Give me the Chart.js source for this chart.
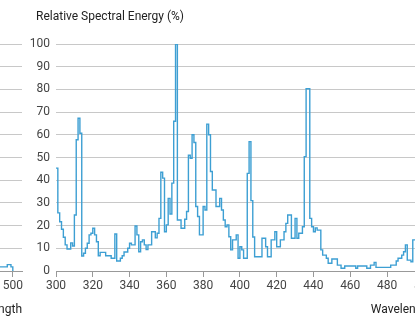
<!DOCTYPE html>
<html>
<head>
<meta charset="utf-8">
<script src="https://cdn.jsdelivr.net/npm/chart.js@4.4.1/dist/chart.umd.min.js"></script>
<style>
  html, body { margin: 0; padding: 0; background: #fff; overflow: hidden; }
  #frame { position: relative; width: 415px; height: 316px; overflow: hidden; }
  canvas { position: absolute; top: 0; }
  #prevChart { left: -411px; }
  #mainChart { left: 0; }
</style>
</head>
<body>
<div id="frame">
  <canvas id="prevChart" width="440" height="316"></canvas>
  <canvas id="mainChart" width="440" height="316"></canvas>
</div>
<script>
// --- Data (1 nm steps) ---
const mainStartNm = 300;
const relativeEnergy = [
  45.3, 25.6, 21.7, 18.4, 14.9, 11.5, 9.7, 9.7, 12.4, 11,      // 300
  24.7, 57.8, 67.3, 60.7, 6.6, 7.8, 10, 12.2, 15.9, 16.6,      // 310
  18.8, 15.9, 12.9, 6.7, 8.2, 8.2, 8.2, 6.7, 6.7, 6.7,         // 320
  5.6, 5.6, 16.3, 4.4, 4.4, 5.6, 6.7, 8.4, 8.4, 10,            // 330
  12.2, 11.5, 11.5, 19.8, 15.9, 8.5, 12.9, 13.7, 11.5, 9.5,    // 340
  11.5, 11.5, 17.3, 17.3, 14.6, 16.6, 23.2, 43.5, 40.9, 17.3,  // 350
  20.3, 32, 25.1, 38.7, 66, 100, 22.5, 22.5, 18.8, 18.8,       // 360
  22.8, 26.2, 51, 49.7, 60, 56.6, 28.4, 24, 15.9, 15.9,        // 370
  28.4, 26.9, 64.7, 60, 43.8, 35.7, 35.7, 28.4, 28.4, 32,      // 380
  26.9, 22.5, 19.5, 20.3, 15.1, 9.3, 13.7, 13.7, 15.9, 5.6,    // 390
  10.7, 9.3, 5.6, 5.6, 43, 57, 31, 15, 6.3, 6.3,               // 400
  6.3, 6.3, 14.4, 14.4, 10.7, 6.3, 6.3, 13.7, 13.7, 17.3,      // 410
  10.7, 10.7, 13.7, 13.7, 17.3, 21, 24.7, 24.7, 14.4, 14.4,    // 420
  23.2, 14.4, 16.6, 16.6, 19.5, 50.4, 80.3, 80.3, 23.2, 19.5,  // 430
  17.3, 19, 18, 18, 9.3, 7, 7, 5.6, 3.4, 3.4,                  // 440
  5.3, 5.3, 5.3, 2.6, 2.6, 1.2, 1.2, 2.2, 2.2, 2.2,            // 450
  2.2, 2.2, 2.2, 1.2, 2.2, 2.2, 2.2, 2.2, 2.2, 1.2,            // 460
  1.2, 2.6, 2.6, 3.8, 1.6, 1.6, 1.6, 1.6, 1.6, 1.6,            // 470
  1.6, 1.6, 2.6, 2.6, 2.6, 4.4, 5.6, 5.6, 7, 8.5,              // 480
  11.5, 4.8, 4.8, 4.1, 13.7, 13.7, 10, 8, 6, 5,                // 490
  4, 3, 3, 2, 2, 2                                             // 500
];

// tail of the neighbouring chart, cut off at the left edge
const prevStartNm = 490;
const prevEnergy = [1.8, 1.8, 1.8, 1.8, 1.8, 1.8, 1.8, 2.8, 2.8, 1.8, 0];

const xMin = 300, xMax = 505, xStep = 20;
const yMin = 0, yMax = 100, yStep = 10;
const xTitle = 'Wavelength';
const yTitle = 'Relative Spectral Energy (%)';

const FONT = 'Roboto';

const yTitlePlugin = {
  id: 'yTitle',
  afterDraw(chart) {
    const ctx = chart.ctx;
    ctx.save();
    ctx.font = `12px ${FONT}`;
    ctx.fillStyle = '#222';
    ctx.textBaseline = 'middle';
    ctx.textAlign = 'left';
    ctx.fillText(yTitle, chart.chartArea.left - 20, 17);
    ctx.restore();
  }
};

function makeChart(id, startNm, values) {
  const points = values.map((v, i) => ({ x: startNm + i, y: v }));
  return new Chart(document.getElementById(id), {
    type: 'line',
    data: {
      datasets: [{
        data: points,
        borderColor: '#3d9fd3',
        borderWidth: 1.4,
        pointRadius: 0,
        stepped: true,
        fill: false
      }]
    },
    options: {
      responsive: false,
      animation: false,
      layout: { padding: { top: 44, right: 7, bottom: 0, left: 0 } },
      plugins: { legend: { display: false }, tooltip: { enabled: false } },
      scales: {
        x: {
          type: 'linear',
          min: xMin, max: xMax,
          afterFit: s => { s.height = 45; },
          ticks: {
            stepSize: xStep, includeBounds: false, padding: 2,
            maxRotation: 0, autoSkip: false,
            color: '#444', font: { family: FONT, size: 12 }
          },
          grid: { drawOnChartArea: false, drawTicks: true, tickLength: 6, color: '#999' },
          border: { display: true, color: '#999' },
          title: {
            display: true, text: xTitle, align: 'end', color: '#222',
            font: { family: FONT, size: 12, lineHeight: 1 }, padding: 0
          }
        },
        y: {
          min: yMin, max: yMax,
          afterFit: s => { s.width = 56; },
          ticks: { stepSize: yStep, padding: 6, color: '#444', font: { family: FONT, size: 12 } },
          grid: { drawTicks: false, color: '#c8c8c8' },
          border: { display: false }
        }
      }
    },
    plugins: [yTitlePlugin]
  });
}

makeChart('prevChart', prevStartNm, prevEnergy);
makeChart('mainChart', mainStartNm, relativeEnergy);
</script>
</body>
</html>
